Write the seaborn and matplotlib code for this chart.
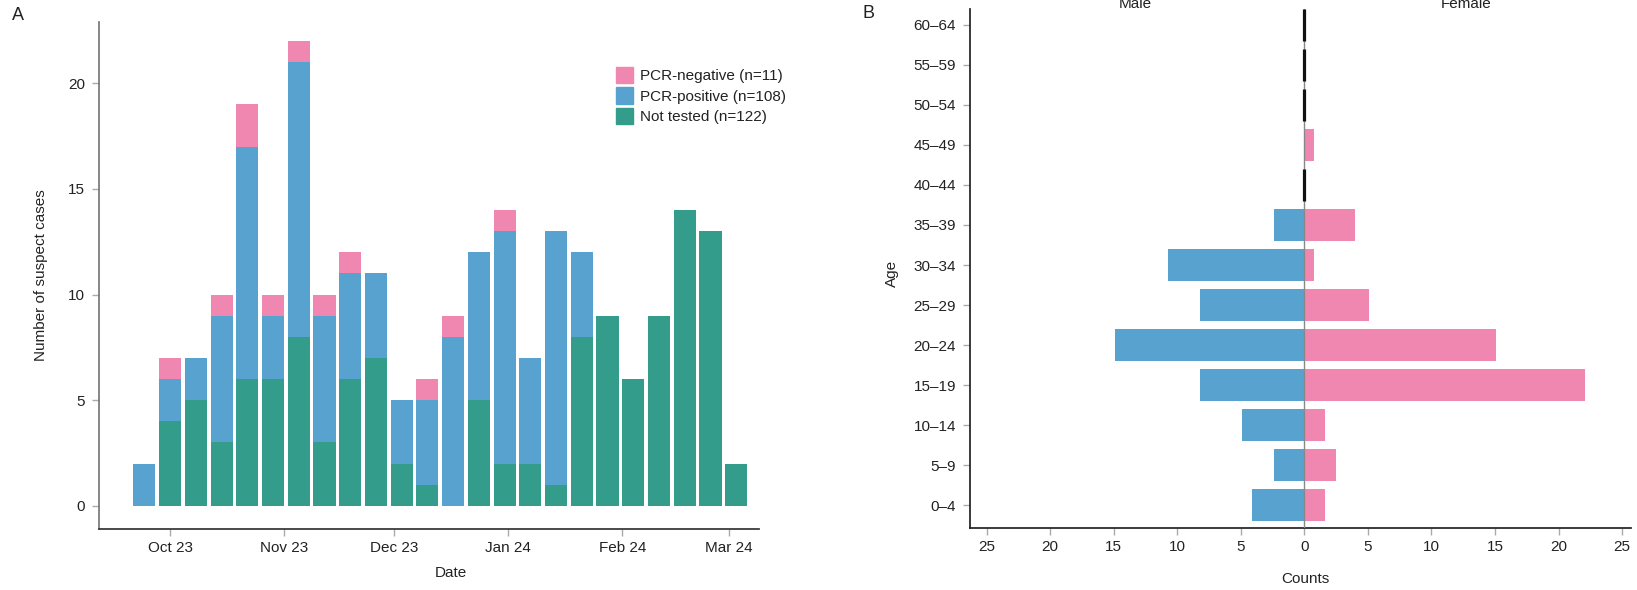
import pandas as pd
import matplotlib
matplotlib.use("Agg")
import matplotlib.pyplot as plt
import seaborn as sns
from matplotlib.patches import Patch

# panel A: weekly suspect cases
week_start = "2023-09-24"
n_weeks = 24
not_tested = [0, 4, 5, 3, 6, 6, 8, 3, 6, 7, 2, 1, 0, 5, 2, 2, 1, 8, 9, 6, 9, 14, 13, 2]
pcr_positive = [2, 2, 2, 6, 11, 3, 13, 6, 5, 4, 3, 4, 8, 7, 11, 5, 12, 4, 0, 0, 0, 0, 0, 0]
pcr_negative = [0, 1, 0, 1, 2, 1, 1, 1, 1, 0, 0, 1, 1, 0, 1, 0, 0, 0, 0, 0, 0, 0, 0, 0]
legend_labels = ["PCR-negative (n=11)", "PCR-positive (n=108)", "Not tested (n=122)"]

# panel B: age / sex pyramid
ages = ["0–4", "5–9", "10–14", "15–19", "20–24", "25–29", "30–34",
        "35–39", "40–44", "45–49", "50–54", "55–59", "60–64"]
male = [4.1, 2.4, 4.9, 8.2, 14.9, 8.2, 10.7, 2.4, 0, 0, 0, 0, 0]
female = [1.6, 2.5, 1.6, 22.1, 15.1, 5.1, 0.8, 4.0, 0, 0.8, 0, 0, 0]
x_ticks_b = [-25, -20, -15, -10, -5, 0, 5, 10, 15, 20, 25]

pink = "#F087B0"
blue = "#58A2CF"
green = "#349C8A"
txt = "#222222"
tickc = "#AAAAAA"

sns.set_theme(style="ticks")
plt.rcParams["font.family"] = ["Liberation Sans", "DejaVu Sans"]
plt.rcParams["font.size"] = 11
plt.rcParams["text.color"] = txt
plt.rcParams["axes.labelcolor"] = txt

fig = plt.figure(figsize=(16.37, 5.9), dpi=100)
axA = fig.add_axes([99 / 1637, 61 / 590, 660 / 1637, 507 / 590])
axB = fig.add_axes([970 / 1637, 62 / 590, 661 / 1637, 519 / 590])

# ---- panel A
weeks = pd.date_range(week_start, periods=n_weeks, freq="7D")
labels = list(weeks.strftime("%Y-%m-%d"))
df = pd.DataFrame({"week": labels, "neg": pcr_negative, "pos": pcr_positive, "nt": not_tested})
df["top_pos"] = df["nt"] + df["pos"]
df["top_neg"] = df["top_pos"] + df["neg"]

for col, c in [("top_neg", pink), ("top_pos", blue), ("nt", green)]:
    sns.barplot(data=df, x="week", y=col, order=labels, color=c, width=0.86,
                saturation=1, errorbar=None, linewidth=0, ax=axA)

t0 = pd.Timestamp(week_start)
months = pd.date_range("2023-10-01", "2024-03-01", freq="MS")
axA.set_xticks((months - t0).days / 7, months.strftime("%b %y"))
axA.set_xlim((pd.Timestamp("2023-09-12 14:00") - t0).days / 7 - 0.05,
             (pd.Timestamp("2024-03-09") - t0).days / 7 + 0.03)
axA.set_ylim(-1.1, 22.9)
axA.set_yticks([0, 5, 10, 15, 20])
axA.set_xlabel("Date", fontsize=11)
axA.set_ylabel("Number of suspect cases", fontsize=11)
axA.xaxis.set_label_coords(0.533, -0.072)
axA.yaxis.set_label_coords(-0.078, 0.5)
sns.despine(ax=axA)
axA.spines["left"].set_color("#777777")
axA.spines["bottom"].set_color("#333333")
axA.tick_params(axis="both", colors=tickc, labelcolor=txt, labelsize=11, length=5, width=1)
axA.tick_params(axis="y", pad=5)

handles = [Patch(color=c) for c in [pink, blue, green]]
axA.legend(handles, legend_labels, loc="upper left", bbox_to_anchor=(0.783, 0.912),
           frameon=False, fontsize=11, handlelength=1.1, handleheight=1.25,
           handletextpad=0.5, labelspacing=0.3, borderpad=0, borderaxespad=0)

fig.text(18 / 1637, 1 - 15 / 590, "A", fontsize=13, ha="center", va="center")

# ---- panel B
dfB = pd.DataFrame({"age": ages, "male": male, "female": female})
dfB["male_neg"] = -dfB["male"]
order = ages[::-1]
sns.barplot(data=dfB, x="male_neg", y="age", order=order, orient="h", color=blue,
            width=0.82, saturation=1, errorbar=None, linewidth=0, ax=axB)
sns.barplot(data=dfB, x="female", y="age", order=order, orient="h", color=pink,
            width=0.82, saturation=1, errorbar=None, linewidth=0, ax=axB)
axB.axvline(0, color="#888888", lw=1, zorder=3)
for i, a in enumerate(order):
    row = dfB[dfB["age"] == a].iloc[0]
    if row["male"] == 0 and row["female"] == 0:
        axB.vlines(0, i - 0.4, i + 0.4, color="#111111", lw=2.3, zorder=4)

axB.set_xlim(-26.3, 25.7)
axB.set_ylim(len(order) - 1 + 0.575, -0.4)
axB.set_xticks(x_ticks_b, [str(abs(v)) for v in x_ticks_b])
axB.set_xlabel("Counts", fontsize=11)
axB.set_ylabel("Age", fontsize=11)
axB.xaxis.set_label_coords(0.507, -0.085)
axB.yaxis.set_label_coords(-0.108, 0.49)
sns.despine(ax=axB)
axB.spines["left"].set_color("#222222")
axB.spines["bottom"].set_color("#222222")
axB.tick_params(axis="both", colors=tickc, labelcolor=txt, labelsize=11, length=5, width=1)
axB.tick_params(axis="y", pad=5)
axB.text(0.25, 1.002, "Male", transform=axB.transAxes, ha="center", va="baseline", fontsize=11)
axB.text(0.75, 1.002, "Female", transform=axB.transAxes, ha="center", va="baseline", fontsize=11)

fig.text(868 / 1637, 1 - 14 / 590, "B", fontsize=13, ha="center", va="center")

fig.savefig("out.png", dpi=100, facecolor="white")
